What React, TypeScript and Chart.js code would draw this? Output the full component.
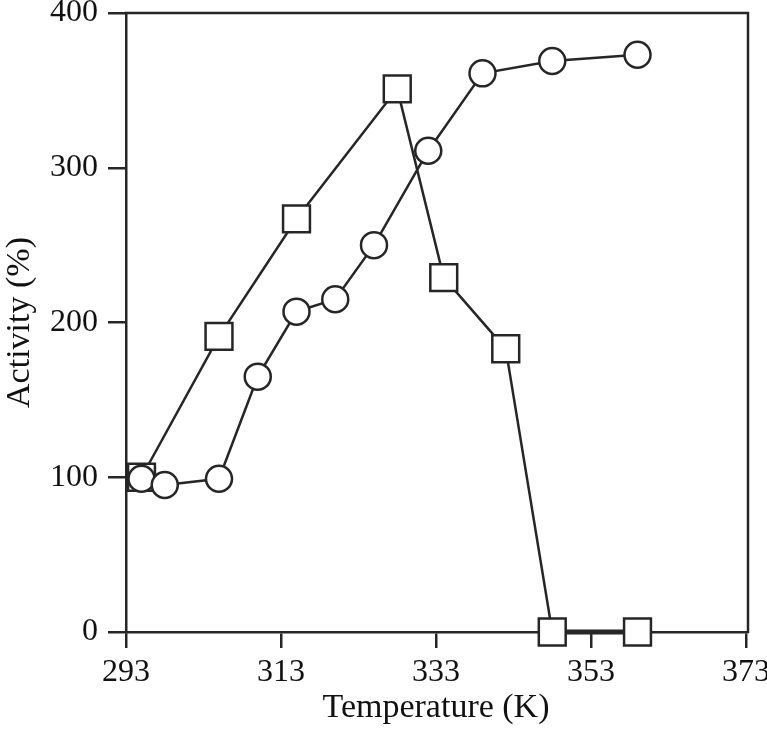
import React, { useEffect, useRef } from 'react';
import { Chart, registerables } from 'chart.js';

Chart.register(...registerables);

const circleTemps = [295, 298, 305, 310, 315, 320, 325, 332, 339, 348, 359];
const circleActivity = [99, 95, 99, 165, 207, 215, 250, 311, 361, 369, 373];
const squareTemps = [295, 305, 315, 328, 334, 342, 348, 359];
const squareActivity = [100, 191, 267, 351, 229, 183, 0, 0];
const xTickValues = [293, 313, 333, 353, 373];
const yTickValues = [0, 100, 200, 300, 400];

const INK = '#262626';
const FONT = 'Liberation Serif, Times New Roman, serif';

const framePlugin = {
  id: 'frame',
  beforeDatasetsDraw(chart: any) {
    const { ctx, chartArea } = chart;
    ctx.save();
    ctx.strokeStyle = INK;
    ctx.lineWidth = 2.5;
    ctx.lineCap = 'square';
    ctx.beginPath();
    ctx.moveTo(chartArea.left, chartArea.top);
    ctx.lineTo(chartArea.right + 2, chartArea.top);
    ctx.lineTo(chartArea.right + 2, chartArea.bottom);
    ctx.stroke();
    ctx.restore();
  },
};

export default function App() {
  const ref = useRef<HTMLCanvasElement | null>(null);

  useEffect(() => {
    if (!ref.current) return;
    const chart = new Chart(ref.current, {
      type: 'line',
      data: {
        datasets: [
          {
            label: 'circles',
            data: circleTemps.map((t, i) => ({ x: t, y: circleActivity[i] })),
            borderColor: INK,
            borderWidth: 2.5,
            pointStyle: 'circle',
            pointRadius: 13,
            pointBackgroundColor: '#ffffff',
            pointBorderColor: INK,
            pointBorderWidth: 2.5,
            fill: false,
            tension: 0,
            clip: false as any,
          },
          {
            label: 'squares',
            data: squareTemps.map((t, i) => ({ x: t, y: squareActivity[i] })),
            borderColor: INK,
            borderWidth: 2.5,
            segment: {
              borderWidth: (c: any) => (c.p0.parsed.y === 0 && c.p1.parsed.y === 0 ? 5 : 2.5),
            },
            pointStyle: 'rect',
            pointRadius: 19,
            pointBackgroundColor: '#ffffff',
            pointBorderColor: INK,
            pointBorderWidth: 2.5,
            fill: false,
            tension: 0,
            clip: false as any,
          },
        ],
      },
      options: {
        animation: false,
        responsive: true,
        maintainAspectRatio: false,
        layout: { autoPadding: false, padding: { left: 0, top: 13, right: 21, bottom: 0 } },
        plugins: {
          legend: { display: false },
          tooltip: { enabled: false },
        },
        scales: {
          x: {
            type: 'linear',
            min: 293,
            max: 373,
            afterBuildTicks: (scale: any) => {
              scale.ticks = xTickValues.map((v) => ({ value: v }));
            },
            afterFit: (scale: any) => {
              scale.height = 99;
              scale.paddingLeft = 0;
              scale.paddingRight = 0;
            },
            grid: {
              display: true,
              drawOnChartArea: false,
              drawTicks: true,
              tickLength: 16,
              color: INK,
              lineWidth: 2.5,
            },
            border: { display: true, color: INK, width: 2.5 },
            ticks: {
              color: '#111111',
              font: { family: FONT, size: 32 },
              padding: 5,
              maxRotation: 0,
              autoSkip: false,
            },
            title: {
              display: true,
              text: 'Temperature (K)',
              color: '#111111',
              font: { family: FONT, size: 34, lineHeight: 1.2 },
              padding: { top: 0, bottom: 3 },
            },
          },
          y: {
            type: 'linear',
            min: 0,
            max: 400,
            afterBuildTicks: (scale: any) => {
              scale.ticks = yTickValues.map((v) => ({ value: v }));
            },
            afterFit: (scale: any) => {
              scale.width = 126;
              scale.paddingTop = 0;
              scale.paddingBottom = 0;
            },
            grid: {
              display: true,
              drawOnChartArea: false,
              drawTicks: true,
              tickLength: 18,
              color: INK,
              lineWidth: 2.5,
            },
            border: { display: true, color: INK, width: 2.5 },
            ticks: {
              color: '#111111',
              font: { family: FONT, size: 32 },
              padding: 10,
              autoSkip: false,
            },
            title: {
              display: true,
              text: 'Activity (%)',
              color: '#111111',
              font: { family: FONT, size: 34, lineHeight: 1.2 },
              padding: { top: 0, bottom: 0 },
            },
          },
        },
      },
      plugins: [framePlugin],
    } as any);
    return () => chart.destroy();
  }, []);

  return (
    <div style={{ position: 'absolute', left: 0, top: 0, width: 767, height: 731, background: '#ffffff' }}>
      <canvas ref={ref} />
    </div>
  );
}
